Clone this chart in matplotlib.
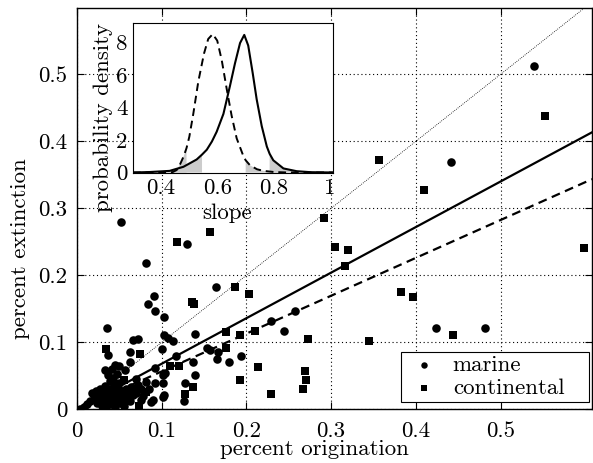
import numpy as np
import matplotlib
matplotlib.use("Agg")
import matplotlib.pyplot as plt
from matplotlib.ticker import FuncFormatter
from matplotlib.patches import Rectangle

plt.rcParams['font.family'] = ['cmr10', 'DejaVu Serif']
plt.rcParams['mathtext.fontset'] = 'cm'
plt.rcParams['axes.formatter.use_mathtext'] = True
FS = 16.5
plt.rcParams['font.size'] = FS

# ---------------- data ----------------
marine_x = [0.540, 0.442, 0.424, 0.482, 0.229, 0.257, 0.244,
            0.052, 0.130, 0.082, 0.164, 0.091, 0.084, 0.092, 0.103, 0.036,
            0.066, 0.072, 0.103, 0.108, 0.113, 0.139, 0.100, 0.062, 0.062, 0.117, 0.037,
            0.153, 0.157, 0.166, 0.165, 0.179, 0.194,
            0.137, 0.139, 0.128, 0.126, 0.102, 0.102, 0.102,
            0.092, 0.057, 0.033, 0.037, 0.104, 0.082, 0.092, 0.090, 0.103, 0.076, 0.087,
            0.003, 0.008, 0.012, 0.015, 0.018, 0.020, 0.022, 0.024, 0.026, 0.027,
            0.029, 0.030, 0.031, 0.033, 0.034, 0.035, 0.036, 0.038, 0.039, 0.040,
            0.041, 0.042, 0.043, 0.044, 0.045, 0.046, 0.047, 0.048, 0.050, 0.051,
            0.052, 0.053, 0.055, 0.056, 0.058, 0.060, 0.062, 0.064, 0.066, 0.068,
            0.070, 0.072, 0.075, 0.078, 0.047, 0.041, 0.045, 0.050, 0.085, 0.070]
marine_y = [0.512, 0.369, 0.122, 0.122, 0.132, 0.146, 0.117,
            0.280, 0.246, 0.218, 0.183, 0.169, 0.157, 0.147, 0.138, 0.121,
            0.104, 0.105, 0.111, 0.106, 0.102, 0.113, 0.090, 0.086, 0.071, 0.079, 0.081,
            0.091, 0.089, 0.086, 0.075, 0.071, 0.079,
            0.070, 0.051, 0.040, 0.012, 0.051, 0.039, 0.019,
            0.061, 0.058, 0.059, 0.051, 0.054, 0.041, 0.039, 0.014, 0.021, 0.014, 0.011,
            0.001, 0.004, 0.008, 0.012, 0.024, 0.016, 0.028, 0.010, 0.020, 0.031,
            0.005, 0.015, 0.025, 0.035, 0.002, 0.012, 0.022, 0.030, 0.042, 0.008,
            0.018, 0.027, 0.046, 0.036, 0.004, 0.014, 0.024, 0.032, 0.040, 0.010,
            0.020, 0.028, 0.005, 0.016, 0.030, 0.024, 0.012, 0.034, 0.021, 0.028,
            0.024, 0.036, 0.031, 0.020, 0.053, 0.060, 0.066, 0.064, 0.030, 0.045]

cont_x = [0.553, 0.356, 0.410, 0.292, 0.304, 0.320, 0.316, 0.598, 0.383, 0.397,
          0.444, 0.345, 0.210, 0.273, 0.214, 0.269, 0.270, 0.267, 0.229, 0.186,
          0.203, 0.118, 0.157, 0.136, 0.138, 0.176, 0.193, 0.176, 0.110, 0.121,
          0.137, 0.128, 0.192, 0.073, 0.055, 0.074, 0.034, 0.081, 0.045, 0.060]
cont_y = [0.438, 0.372, 0.327, 0.285, 0.243, 0.238, 0.214, 0.241, 0.175, 0.167,
          0.111, 0.102, 0.117, 0.105, 0.063, 0.057, 0.043, 0.030, 0.023, 0.182,
          0.172, 0.249, 0.265, 0.160, 0.157, 0.116, 0.111, 0.091, 0.065, 0.065,
          0.034, 0.023, 0.043, 0.005, 0.044, 0.082, 0.090, 0.026, 0.030, 0.020]

slope_solid = 0.68
slope_dashed = 0.565

dens_dashed_x = [0.30, 0.40, 0.44, 0.455, 0.467, 0.48, 0.49, 0.50, 0.514, 0.532, 0.552,
                 0.567, 0.583, 0.599, 0.615, 0.633, 0.650, 0.668, 0.692, 0.70, 0.715,
                 0.74, 0.763, 0.80, 0.85, 1.01]
dens_dashed_y = [0.0, 0.0, 0.02, 0.15, 0.5, 1.0, 1.5, 2.2, 3.6, 5.6, 7.3,
                 8.2, 8.5, 8.1, 6.9, 5.1, 3.5, 2.1, 1.0, 0.75, 0.45,
                 0.2, 0.1, 0.03, 0.0, 0.0]
dens_solid_x = [0.30, 0.36, 0.43, 0.479, 0.50, 0.526, 0.545, 0.562, 0.58, 0.597, 0.621,
                0.644, 0.662, 0.680, 0.695, 0.709, 0.725, 0.739, 0.757, 0.775, 0.785,
                0.798, 0.834, 0.881, 0.93, 1.01]
dens_solid_y = [0.0, 0.03, 0.1, 0.35, 0.55, 0.8, 1.1, 1.4, 1.9, 2.5, 3.6,
                5.3, 6.7, 7.95, 8.45, 7.8, 6.1, 4.5, 2.85, 1.6, 1.15,
                0.75, 0.25, 0.08, 0.02, 0.0]
ci_dashed = (0.49, 0.70)
ci_solid = (0.545, 0.785)

# ---------------- figure ----------------
W, H = 593, 463
fig = plt.figure(figsize=(W / 100, H / 100), dpi=100)
AX_L, AX_B, AX_W, AX_H = 77, 409.3, 515, 401.3
ax = fig.add_axes([AX_L / W, 1 - AX_B / H, AX_W / W, AX_H / H])

def px2ax(px, py):
    return ((px - AX_L) / AX_W, (AX_B - py) / AX_H)

xmax, ymax = 0.608, 0.599
ax.set_xlim(0, xmax)
ax.set_ylim(0, ymax)

ax.scatter(marine_x, marine_y, s=38, marker='o', color='black', linewidths=0,
           label='marine', zorder=3)
ax.scatter(cont_x, cont_y, s=36, marker='s', color='black', linewidths=0,
           label='continental', zorder=3)

xl = np.array([0, xmax])
ax.plot(xl, xl, color='black', lw=0.6, ls=(0, (1, 1.5)), zorder=2)
ax.plot(xl, slope_solid * xl, color='black', lw=1.6, zorder=2)
ax.plot(xl, slope_dashed * xl, color='black', lw=1.6, ls=(0, (4, 2.5)), zorder=2)

ticks = [0, 0.1, 0.2, 0.3, 0.4, 0.5]
ax.set_xticks(ticks)
ax.set_yticks(ticks)
fmt = FuncFormatter(lambda v, p: '%g' % v)
ax.xaxis.set_major_formatter(fmt)
ax.yaxis.set_major_formatter(fmt)
ax.tick_params(direction='in', length=5, width=0.8, top=True, right=True, labelsize=FS)
ax.tick_params(axis='x', pad=9)
ax.tick_params(axis='y', pad=7)
ax.grid(True, color='black', ls=(0, (1, 2.5)), lw=0.8)
for sp in ax.spines.values():
    sp.set_linewidth(1.0)

ax.set_xlabel('percent origination', fontsize=FS)
ax.set_ylabel('percent extinction', fontsize=FS)
ax.xaxis.set_label_coords(0.462, -0.076)
ax.yaxis.set_label_coords(-0.091, 0.40)

# legend (frame drawn separately to match the reference padding)
x0, y0 = px2ax(400.7, 401.7)
x1, y1 = px2ax(589.3, 351.7)
ax.add_patch(Rectangle((x0, y0), x1 - x0, y1 - y0, transform=ax.transAxes,
                       facecolor='white', edgecolor='black', lw=0.8, zorder=4))
lx, ly = px2ax(414.5, 354.5)
leg = ax.legend(loc='upper left', bbox_to_anchor=(lx, ly), frameon=False,
                fontsize=FS, markerscale=0.75, handletextpad=0.87, borderpad=0,
                labelspacing=0.17, handlelength=0.8, borderaxespad=0)
leg.set_zorder(5)

# ---------------- inset ----------------
ins = fig.add_axes([133 / W, 1 - 172.5 / H, 200 / W, 149.8 / H])
ins.set_facecolor('white')
ins.set_xlim(0.3, 1.01)
ins.set_ylim(0, 9.2)
dx = np.array(dens_dashed_x)
dy = np.array(dens_dashed_y)
sx = np.array(dens_solid_x)
sy = np.array(dens_solid_y)
ins.fill_between(dx, 0, dy, where=(dx <= ci_dashed[0]) | (dx >= ci_dashed[1]),
                 color='#cccccc', lw=0, interpolate=True)
ins.fill_between(sx, 0, sy, where=(sx <= ci_solid[0]) | (sx >= ci_solid[1]),
                 color='#cccccc', lw=0, interpolate=True)
ins.plot(dx, dy, color='black', lw=1.4, ls=(0, (4, 2.5)))
ins.plot(sx, sy, color='black', lw=1.5)
ins.set_xticks([0.4, 0.6, 0.8, 1.0])
ins.set_yticks([0, 2, 4, 6, 8])
ins.xaxis.set_major_formatter(fmt)
ins.yaxis.set_major_formatter(fmt)
ins.tick_params(direction='in', length=0, labelsize=FS, pad=4)
for sp in ins.spines.values():
    sp.set_linewidth(0.8)
ins.set_xlabel('slope', fontsize=FS)
ins.set_ylabel('probability density', fontsize=FS)
ins.xaxis.set_label_coords(0.47, -0.205)
ins.yaxis.set_label_coords(-0.10, 0.37)

fig.savefig('out.png', dpi=100)
